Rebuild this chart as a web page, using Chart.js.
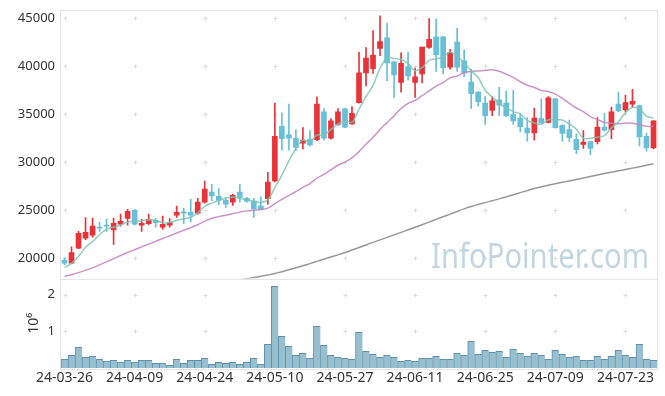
<!DOCTYPE html>
<html><head><meta charset="utf-8">
<script src="https://cdn.jsdelivr.net/npm/chart.js@4.4.0/dist/chart.umd.min.js"></script>
<style>html,body{margin:0;padding:0;background:#fff;}#wrap{width:665px;height:396px;position:relative;}</style>
</head><body><div id="wrap"><canvas id="c" width="665" height="396"></canvas></div>
<script>
const dates = ["24-03-26","24-03-27","24-03-28","24-03-29","24-04-01","24-04-02","24-04-03","24-04-04","24-04-05","24-04-08",
"24-04-09","24-04-11","24-04-12","24-04-15","24-04-16","24-04-17","24-04-18","24-04-19","24-04-22","24-04-23",
"24-04-24","24-04-25","24-04-26","24-04-29","24-04-30","24-05-02","24-05-03","24-05-07","24-05-08","24-05-09",
"24-05-10","24-05-13","24-05-14","24-05-16","24-05-17","24-05-20","24-05-21","24-05-22","24-05-23","24-05-24",
"24-05-27","24-05-28","24-05-29","24-05-30","24-05-31","24-06-03","24-06-04","24-06-05","24-06-07","24-06-10",
"24-06-11","24-06-12","24-06-13","24-06-14","24-06-17","24-06-18","24-06-19","24-06-20","24-06-21","24-06-24",
"24-06-25","24-06-26","24-06-27","24-06-28","24-07-01","24-07-02","24-07-03","24-07-04","24-07-05","24-07-08",
"24-07-09","24-07-10","24-07-11","24-07-12","24-07-15","24-07-16","24-07-17","24-07-18","24-07-19","24-07-22",
"24-07-23","24-07-24","24-07-25","24-07-26","24-07-29"];

const openP = [19800,19500,21050,22100,22400,23250,23400,22950,23550,24150,
25000,23450,23600,23950,23250,23450,24500,24850,24800,24700,
25850,26900,26450,26050,25850,26900,26250,25950,25450,26200,
28050,33750,32850,32500,32000,32400,32350,35250,32500,33950,
35550,34000,36200,39300,39750,41850,42950,40450,38300,39950,
38300,39200,41950,43050,43050,39900,42500,40550,38350,37300,
36150,35400,36500,36150,35000,34600,33550,33050,34550,34150,
36600,33850,33400,32400,31850,32150,32150,33650,33400,36050,
35450,36050,35900,32700,31500];

const highP = [20050,21200,22800,24250,24200,23750,24050,24200,24600,25100,
25100,24050,24600,24150,24400,24150,25450,25200,26150,26250,
28050,27700,27250,26350,26650,27700,26350,26250,26400,28950,
36150,35150,36050,33400,33600,33300,36800,35600,34550,35600,
35650,35800,41450,41950,43700,45250,44500,40500,41400,41450,
39800,42000,44950,44900,43100,41750,43950,41700,39700,37350,
36850,36850,37800,37400,37500,35100,34650,35650,36600,36850,
36650,33900,34400,32950,33300,32200,34650,35100,35750,37300,
37000,37600,35950,33050,34350];

const lowP = [19350,19450,21000,21950,22200,22800,22800,21450,23350,23450,
23450,22800,23500,23250,23000,23250,24250,23600,23800,24600,
25750,26000,25550,25300,25500,25850,25850,24250,25050,25650,
27950,31250,31250,31200,31400,31700,32250,32300,32400,33850,
33600,33950,36150,37950,39250,41100,38500,36750,37300,38550,
36750,38250,41850,39450,39200,39700,39450,38900,35600,35850,
33950,34850,34850,34750,33950,33150,32200,32300,34050,34100,
33550,32200,32150,30900,31450,30800,31900,33250,32450,35250,
35250,35700,31700,31150,31400];

const closeP = [19500,20600,22600,22700,23350,23150,23350,23650,23850,24900,
23550,23650,24050,23700,23550,23750,24800,24700,24500,25850,
27200,26500,26050,25650,26550,26350,25950,25150,25100,27950,
32700,32450,32500,31550,32300,31800,36050,32500,34300,35250,
33650,35100,39300,40850,41150,42550,40350,39100,40300,39000,
38900,42000,42800,41200,39850,41450,39900,39300,37150,36300,
34850,36400,35950,34850,34300,33700,33050,34600,34100,36700,
33600,33000,32550,31300,32100,31450,33650,33350,35250,35350,
36200,36350,32650,31500,34300];

const volume = [237000,346000,564000,292000,319000,237000,190000,210000,163000,210000,
163000,210000,210000,128000,128000,73000,237000,128000,210000,210000,
264000,100000,155000,128000,155000,100000,155000,264000,100000,646000,
2226000,864000,591000,346000,400000,264000,1136000,618000,346000,290000,
264000,237000,973000,455000,373000,290000,346000,290000,182000,210000,
182000,264000,264000,319000,237000,237000,400000,346000,727000,373000,
482000,427000,455000,290000,509000,400000,319000,400000,346000,237000,
482000,373000,290000,319000,210000,210000,319000,237000,319000,482000,
346000,290000,646000,237000,210000];

const ma5 = [19060,19480,20210,21150,21750,22480,23030,23240,23470,23780,
23860,23920,24000,23970,23700,23740,23970,24100,24260,24720,
25410,25750,26020,26250,26390,26220,26110,25930,25820,26100,
27370,28670,30140,31430,32300,32120,32840,32840,33390,33980,
34350,34160,35520,36830,38010,39790,40840,40800,40690,40260,
39530,39860,40600,40780,40950,41460,41040,40340,39530,38820,
37500,36800,36130,35670,35270,35040,34370,34100,33950,34430,
34410,34400,33990,33430,32510,32480,32610,32770,33560,34210,
35160,35700,35560,34800,34590];

const ma20 = [18120,18300,18510,18750,19010,19320,19630,19970,20290,20610,
20900,21190,21480,21770,22070,22350,22630,22920,23200,23490,
23870,24170,24340,24490,24650,24810,24940,25010,25080,25230,
25690,26130,26550,26940,27380,27780,28340,28730,29220,29690,
30020,30450,31110,31870,32600,33410,34130,34830,35590,36140,
36450,36930,37440,37920,38300,38780,38980,39320,39460,39510,
39570,39640,39470,39170,38830,38380,38020,37790,37480,37370,
37100,36650,36140,35650,35260,34760,34450,34150,34050,34010,
34080,34070,33910,33740,33740];

const ma120 = [null,null,null,null,null,null,null,null,null,null,
null,null,null,null,null,null,null,null,null,null,
null,null,17450,17560,17670,17770,17880,18000,18130,18270,
18420,18610,18810,19020,19230,19450,19680,19910,20140,20360,
20600,20860,21120,21390,21660,21920,22180,22440,22700,22970,
23230,23500,23770,24050,24330,24600,24880,25150,25390,25600,
25800,26000,26190,26400,26620,26840,27050,27270,27440,27600,
27760,27910,28060,28210,28370,28520,28680,28830,28970,29110,
29250,29390,29540,29700,29850];

const priceTicks = [20000,25000,30000,35000,40000,45000];
const volumeTicks = [1000000,2000000];

const UP = '#e93339', DOWN = '#67bfd8';
const candleColors = closeP.map((c,i) => c >= openP[i] ? UP : DOWN);

Chart.defaults.font.family = '"Noto Sans", "DejaVu Sans", sans-serif';
Chart.defaults.color = '#333';

const decor = {
  id: 'decor',
  beforeDatasetsDraw(chart) {
    const ctx = chart.ctx, x = chart.scales.x, y = chart.scales.y, yv = chart.scales.yv;
    ctx.save();
    // watermark
    ctx.font = '35px "Noto Sans"';
    ctx.fillStyle = '#c2d6df';
    ctx.textAlign = 'right';
    ctx.textBaseline = 'alphabetic';
    ctx.fillText('InfoPointer.com', x.right - 8, y.bottom - 11, 218);
    // grid crosses
    ctx.strokeStyle = '#dcdcdc';
    ctx.lineWidth = 1;
    const xs = [];
    for (let i = 0; i < dates.length; i += 10) xs.push(Math.round(x.getPixelForValue(i)) + 0.5);
    const cross = (px, py) => {
      py = Math.round(py) + 0.5;
      ctx.beginPath();
      ctx.moveTo(px - 2, py); ctx.lineTo(px + 2, py);
      ctx.moveTo(px, py - 2); ctx.lineTo(px, py + 2);
      ctx.stroke();
    };
    xs.forEach(px => {
      priceTicks.forEach(v => cross(px, y.getPixelForValue(v)));
      volumeTicks.forEach(v => cross(px, yv.getPixelForValue(v)));
    });
    // panel borders
    ctx.strokeStyle = '#e4e4e4';
    ctx.strokeRect(Math.round(x.left) - 0.5, Math.round(y.top) + 0.5, Math.round(x.right - x.left) + 1, Math.round(y.bottom - y.top));
    ctx.strokeRect(Math.round(x.left) - 0.5, Math.round(yv.top) + 0.5, Math.round(x.right - x.left) + 1, Math.round(yv.bottom - yv.top));
    ctx.restore();
  }
};

const noPad = s => { s.paddingTop = 0; s.paddingBottom = 0; };

new Chart(document.getElementById('c'), {
  data: {
    labels: dates,
    datasets: [
      { type: 'line', label: 'MA5', data: ma5, yAxisID: 'y', borderColor: 'rgba(124,196,180,0.85)', borderWidth: 1.5, pointRadius: 0, tension: 0.35, order: 0 },
      { type: 'line', label: 'MA20', data: ma20, yAxisID: 'y', borderColor: 'rgba(196,128,190,0.85)', borderWidth: 1.5, pointRadius: 0, tension: 0.35, order: 0 },
      { type: 'line', label: 'MA120', data: ma120, yAxisID: 'y', borderColor: 'rgba(140,140,140,0.9)', borderWidth: 1.5, pointRadius: 0, tension: 0.35, order: 0 },
      { type: 'bar', label: 'wick', data: lowP.map((l,i) => [l, highP[i]]), yAxisID: 'y', backgroundColor: candleColors, barThickness: 1, grouped: false, order: 2 },
      { type: 'bar', label: 'body', data: openP.map((o,i) => [o, closeP[i]]), yAxisID: 'y', backgroundColor: candleColors, barThickness: 5, minBarLength: 1, grouped: false, order: 1 },
      { type: 'bar', label: 'volume', data: volume, yAxisID: 'yv', backgroundColor: '#97bfcf', borderColor: '#5e91aa', borderWidth: {top:1,left:1,right:0,bottom:0}, borderSkipped: false, barPercentage: 1, categoryPercentage: 1, grouped: false, order: 3 }
    ]
  },
  options: {
    responsive: false,
    animation: false,
    layout: { padding: { top: 10, right: 8, left: 0, bottom: 0 } },
    plugins: { legend: { display: false }, tooltip: { enabled: false } },
    scales: {
      x: {
        type: 'category', offset: true,
        grid: { display: false, drawTicks: false }, border: { display: false },
        ticks: { autoSkip: false, maxRotation: 0, padding: 2, font: { size: 14 }, color: '#333',
          callback: (v, i) => (i % 10 === 0 ? dates[i] : '') },
        afterFit: s => { s.height = 28; s.paddingLeft = 0; s.paddingRight = 0; }
      },
      y: {
        type: 'linear', position: 'left', stack: 'panels', stackWeight: 3, weight: 2,
        min: 17900, max: 45850,
        grid: { display: false, drawTicks: false }, border: { display: false },
        ticks: { padding: 6, font: { size: 13 }, color: '#333', callback: v => String(v) },
        afterBuildTicks: s => { s.ticks = priceTicks.map(v => ({ value: v })); },
        afterFit: s => { s.width = 61; noPad(s); }
      },
      yv: {
        type: 'linear', position: 'left', stack: 'panels', stackWeight: 1, weight: 1,
        min: 0, max: 2440000,
        grid: { display: false, drawTicks: false }, border: { display: false },
        ticks: { padding: 6, font: { size: 13 }, color: '#333', callback: v => String(v / 1000000) },
        afterBuildTicks: s => { s.ticks = volumeTicks.map(v => ({ value: v })); },
        title: { display: true, text: '10⁶', font: { size: 14 }, color: '#333', padding: { top: 26, bottom: 0 } },
        afterFit: s => { s.width = 61; noPad(s); }
      }
    }
  },
  plugins: [decor]
});
</script></body></html>
